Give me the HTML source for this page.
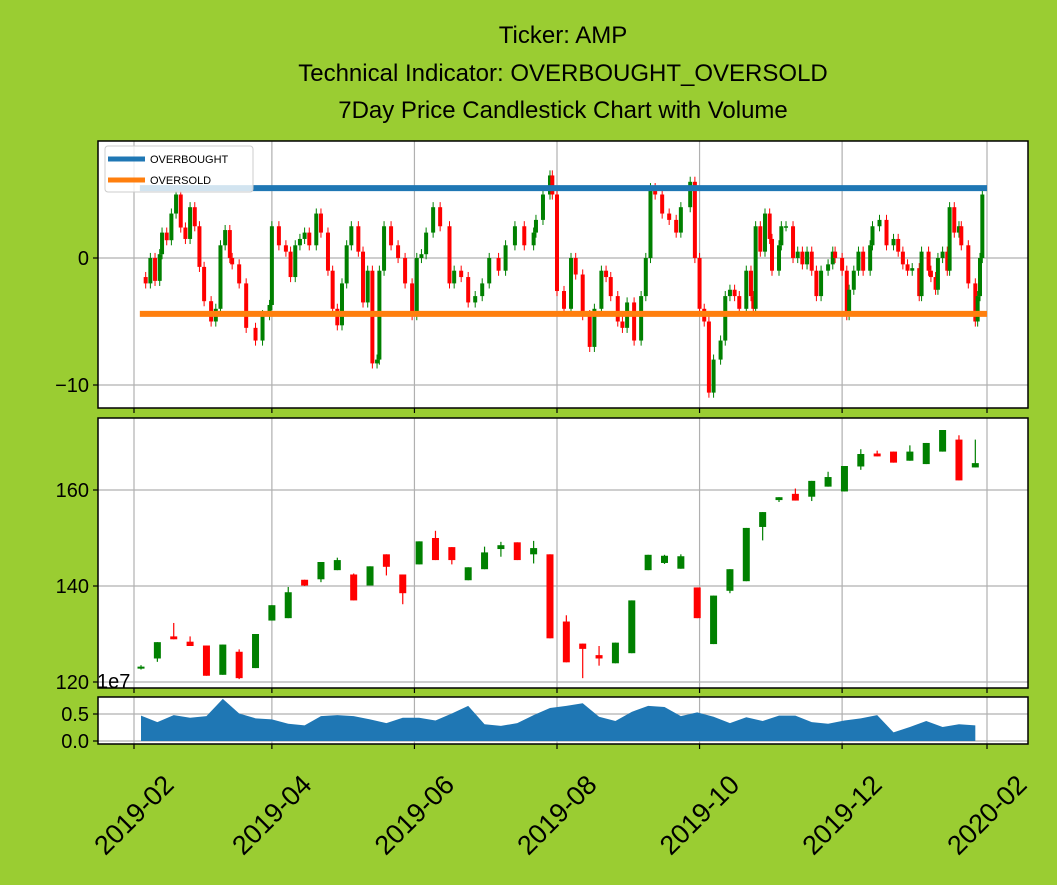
<!DOCTYPE html>
<html><head><meta charset="utf-8">
<style>
html,body{margin:0;padding:0;background:#9acd32;}
svg{display:block;font-family:"Liberation Sans","DejaVu Sans",sans-serif;}
</style></head>
<body>
<svg id="chart" width="1057" height="885" viewBox="0 0 1057 885">
<rect x="0" y="0" width="1057" height="885" fill="#9acd32"/>
<g font-size="24" text-anchor="middle" fill="#000">
<text x="563" y="43">Ticker: AMP</text>
<text x="563" y="81">Technical Indicator: OVERBOUGHT_OVERSOLD</text>
<text x="563" y="118">7Day Price Candlestick Chart with Volume</text>
</g>
<g id="g"></g>
</svg>
<script>
// ---------- data ----------
const monthTickLabels = ["2019-02","2019-04","2019-06","2019-08","2019-10","2019-12","2020-02"];
const monthTickDays = [0,59,120,181,242,303,365];
const overbought = 5.5;
const oversold = -4.4;
// daily oscillator: day offset from 2019-02-01, and value
const oscDays = [5,7,9,11,12,14,16,18,20,22,24,26,28,30,33,35,37,39,41,42,45,48,52,55,58,59,62,65,67,69,71,73,75,78,80,83,85,87,89,91,93,96,98,100,102,104,105,107,110,113,116,119,121,123,125,128,131,135,137,140,143,146,149,152,156,159,163,167,171,172,175,178,179,181,184,187,189,192,195,197,200,202,204,207,209,211,214,217,219,221,223,226,229,232,234,238,240,242,244,246,248,251,253,255,257,259,262,264,265,266,268,270,272,273,276,277,279,282,284,286,288,290,292,294,297,299,300,303,305,306,308,310,312,315,316,319,322,325,327,329,331,333,336,337,340,341,343,344,346,348,349,351,353,354,357,360,361,362,363];
const oscClose = [-2,0,-1.8,0.3,2,1.4,3.5,5,2.4,1.5,4,2.5,-0.7,-3.4,-5,-4,1,2.2,0,-0.5,-2,-5.5,-6.5,-4.5,-3.7,2.5,1,0.5,-1.5,1,1.5,2,1,3.5,2,-1,-4,-5.3,-2,1,2.5,0.5,-3.5,-1,-8.3,-8,-1,2.5,1,0,-2,-4.5,0,0.3,2,4,2.5,-2,-1,-1.5,-3.5,-3,-2,0,-1,1,2.5,1,2,3,5,6.5,5,-2.6,-4,0,-1.3,-4.5,-7,-4,-1,-1.5,-3,-5,-5.5,-3.5,-6.5,-3,0,5.5,5,3.5,3,2,4,6,0,-4,-5,-10.6,-8,-6.5,-3,-2.5,-3,-4,-1,-3,-4,2.5,0.5,3.5,1.5,-1,1,2.5,2.5,0,0.5,-0.5,0.5,-1,-3,-1,-0.5,0.5,0,-1,-4.5,-2.5,-1,0.5,-1,1,2.5,3,1,1.5,0.5,-0.5,-1,-0.8,-3,0.5,-1,-1.5,-2.5,0,0.5,-1,4,2,2.5,1,-2,-5,-3,0,5];
// weekly price candles
const weekOpen  = [122.8,124.9,129.5,128.4,127.6,121.5,126.3,122.9,132.8,133.3,141.3,141.4,143.3,142.4,140.1,146.6,142.4,144.5,150,148.1,141.2,143.5,147.7,149.1,146.6,146.6,132.6,128.0,125.6,123.9,126.0,143.3,144.8,143.6,139.7,127.9,139.0,141.0,152.3,157.9,159.2,158.6,160.7,159.7,164.9,167.6,168,166.1,165.4,168.0,170.5,164.7];
const weekClose = [123.2,128.3,128.9,127.5,121.3,127.8,120.8,130.0,136.0,138.7,140.1,145.0,145.4,137.0,144.1,144.0,138.5,149.3,145.4,145.4,143.9,147.0,148.5,145.4,147.9,129.1,124.1,126.9,124.9,128.2,137.0,146.5,146.3,146.2,133.3,138.0,143.5,152.1,155.4,158.5,157.8,161.9,162.7,165.0,167.5,167.0,165.7,168.0,169.8,172.5,162.0,165.6];
const weekHigh  = [123.5,128.3,132.3,129.5,127.6,127.8,126.8,130.0,136.0,139.8,141.3,145.0,145.9,142.6,144.1,146.6,142.4,149.3,151.5,148.1,143.9,148.2,149.2,149.1,149.4,146.6,133.9,128.0,127.5,128.2,137.0,146.5,146.5,146.6,139.7,138.0,143.5,152.1,155.4,158.5,160.3,161.9,163.8,165.0,168.5,168.2,168.0,169.3,169.8,172.5,171.4,170.5];
const weekLow   = [122.6,124.2,128.9,127.5,121.3,121.5,120.6,122.9,132.8,133.3,140.0,140.8,143.3,137.0,140.1,142.2,136.2,144.5,145.4,144.5,141.2,143.5,146.1,145.4,144.7,129.1,124.1,120.8,123.4,123.9,126.0,143.3,144.6,143.6,133.3,127.9,138.5,141.0,149.5,157.5,157.8,157.7,160.7,159.7,164.2,167.0,165.7,166.1,165.4,168.0,162.0,164.7];
const weekVolume = [0.47,0.35,0.48,0.43,0.46,0.78,0.51,0.42,0.40,0.32,0.29,0.46,0.48,0.46,0.40,0.33,0.43,0.43,0.38,0.51,0.65,0.31,0.28,0.33,0.48,0.61,0.65,0.70,0.45,0.37,0.54,0.65,0.63,0.46,0.53,0.45,0.33,0.44,0.37,0.47,0.47,0.35,0.32,0.38,0.42,0.48,0.16,0.26,0.37,0.26,0.31,0.29];
const firstWeekDay = 3;

// ---------- layout & scales ----------
const NS="http://www.w3.org/2000/svg";
const G=document.getElementById('g');
const L=98,R=1028;
const P1={t:141,b:408},P2={t:418,b:688},P3={t:697,b:744};
const xDay=d=>134+d*2.337;
const y1=v=>258-v*12.7;
const y2=v=>490-(v-160)*4.8;
const y3=v=>741-v*54;
function el(tag,attrs,parent){const e=document.createElementNS(NS,tag);for(const k in attrs)e.setAttribute(k,attrs[k]);(parent||G).appendChild(e);return e;}

function panel(P,name){
  const r=el('rect',{x:L,y:P.t,width:R-L,height:P.b-P.t,fill:'#fff'});
  
  
  monthTickDays.forEach((d,i)=>{
    const gl=el('line',{x1:xDay(d),x2:xDay(d),y1:P.t,y2:P.b,stroke:'#b0b0b0','stroke-width':1.2});
    
    
    const tk=el('line',{x1:xDay(d),x2:xDay(d),y1:P.b,y2:P.b+5,stroke:'#000','stroke-width':1.2});
    
    
  });
}
function hgrid(P,name,vals,yf,labels){
  vals.forEach((v,i)=>{
    const y=yf(v);
    const gl=el('line',{x1:L,x2:R,y1:y,y2:y,stroke:'#b0b0b0','stroke-width':1.2});
    
    
    const tk=el('line',{x1:L-5,x2:L,y1:y,y2:y,stroke:'#000','stroke-width':1.2});
    
    
    const t=el('text',{x:L-9,y:y+7,'font-size':20,'text-anchor':'end',fill:'#000'});
    t.textContent=labels[i];
    
    
  });
}
function frame(P,name){
  const f=el('rect',{x:L,y:P.t,width:R-L,height:P.b-P.t,fill:'none',stroke:'#000','stroke-width':1.5});
  
  
}

// ---- top panel ----
panel(P1,'oscillator-panel');
hgrid(P1,'oscillator',[0,-10],y1,['0','\u221210']);
oscDays.forEach((d,i)=>{
  const c=oscClose[i];
  const o=i>0?oscClose[i-1]:c+0.5;
  const col=c>=o?'#008000':'#ff0000';
  const x=xDay(d);
  const w=el('line',{x1:x,x2:x,y1:y1(Math.max(o,c)+0.4),y2:y1(Math.min(o,c)-0.4),stroke:col,'stroke-width':1});
  
  
  const top=y1(Math.max(o,c)),bot=y1(Math.min(o,c));
  const b=el('rect',{x:x-2,y:top,width:4,height:Math.max(1.5,bot-top),fill:col});
  
  
});
const ob=el('line',{x1:xDay(2.5),x2:xDay(365),y1:y1(overbought),y2:y1(overbought),stroke:'#1f77b4','stroke-width':6});


const os=el('line',{x1:xDay(2.5),x2:xDay(365),y1:y1(oversold),y2:y1(oversold),stroke:'#ff7f0e','stroke-width':6});


// legend
const lg=el('g',{});


const lb=el('rect',{x:105,y:146,width:148,height:46,rx:3,fill:'#fff','fill-opacity':0.8,stroke:'#ccc'},lg);


[['OVERBOUGHT','#1f77b4',159],['OVERSOLD','#ff7f0e',180]].forEach(e=>{
  const ln=el('line',{x1:108,x2:145,y1:e[2],y2:e[2],stroke:e[1],'stroke-width':5},lg);
  
  
  const t=el('text',{x:150,y:e[2]+4,'font-size':11,fill:'#000'},lg);
  t.textContent=e[0];
  
  
});
frame(P1,'oscillator-panel');

// ---- middle panel ----
panel(P2,'price-panel');
hgrid(P2,'price',[120,140,160],y2,['120','140','160']);
weekOpen.forEach((o,i)=>{
  const c=weekClose[i];
  const col=c>=o?'#008000':'#ff0000';
  const x=xDay(firstWeekDay+i*7);
  const w=el('line',{x1:x,x2:x,y1:y2(weekHigh[i]),y2:y2(weekLow[i]),stroke:col,'stroke-width':1.2});
  
  
  const top=y2(Math.max(o,c)),bot=y2(Math.min(o,c));
  const b=el('rect',{x:x-3.5,y:top,width:7,height:Math.max(2,bot-top),fill:col});
  
  
});
frame(P2,'price-panel');

// ---- volume panel ----
panel(P3,'volume-panel');
hgrid(P3,'volume',[0,0.5],y3,['0.0','0.5']);
let pts=[[xDay(firstWeekDay),y3(0)]];
weekVolume.forEach((v,i)=>pts.push([xDay(firstWeekDay+i*7),y3(v)]));
pts.push([xDay(firstWeekDay+(weekVolume.length-1)*7),y3(0)]);
const area=el('polygon',{points:pts.map(p=>p.join(',')).join(' '),fill:'#1f77b4'});


frame(P3,'volume-panel');
const ex=el('text',{x:97,y:688,'font-size':20,fill:'#000'});
ex.textContent='1e7';



// x tick labels (centered on tick, rotated 45°)
monthTickLabels.forEach((s,i)=>{
  const x=xDay(monthTickDays[i]);
  const t=el('text',{x:x,y:815,'font-size':27,'text-anchor':'middle','dominant-baseline':'central',fill:'#000',transform:`rotate(-45 ${x} 815)`});
  t.textContent=s;
  
  
});
</script>
</body></html>
